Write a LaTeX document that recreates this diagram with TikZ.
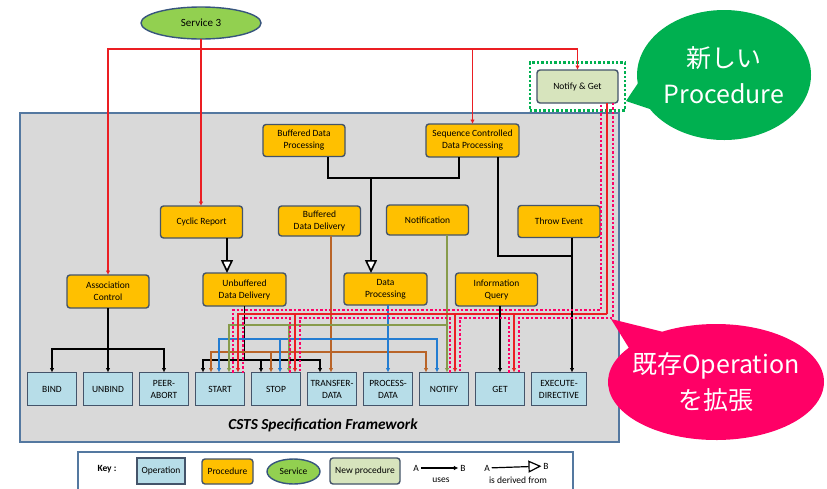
\documentclass[tikz,border=0pt]{standalone}
\usepackage{fontspec}
\setmainfont{Carlito}
\newfontfamily\jpfont{Noto Sans CJK JP}
\usetikzlibrary{arrows.meta,positioning,fit,calc,shapes.geometric,shapes.callouts}
\definecolor{procorange}{RGB}{255,192,0}
\definecolor{opblue}{RGB}{183,221,232}
\definecolor{newgreen}{RGB}{215,228,189}
\definecolor{svcgreen}{RGB}{146,208,80}
\definecolor{svcedge}{RGB}{55,85,125}
\definecolor{boxedge}{RGB}{68,84,106}
\definecolor{framegrey}{RGB}{217,217,217}
\definecolor{framedge}{RGB}{84,120,160}
\definecolor{svcred}{RGB}{235,30,35}
\definecolor{brnline}{RGB}{185,100,40}
\definecolor{bluline}{RGB}{35,125,210}
\definecolor{olvline}{RGB}{135,155,75}
\definecolor{hlpink}{RGB}{255,0,102}
\definecolor{calgreen}{RGB}{0,176,80}
\definecolor{calpink}{RGB}{255,0,102}

\begin{document}
\begin{tikzpicture}[
    x=1pt, y=-1pt,
    every node/.style={font=\fontsize{9.5}{12}\selectfont, outer sep=0pt},
    proc/.style={draw=boxedge, fill=procorange, line width=1.4pt, rounded corners=3pt,
      minimum width=82pt, minimum height=32pt, inner sep=1pt, align=center},
    oper/.style={draw=boxedge, fill=opblue, line width=1.4pt,
      minimum width=49pt, minimum height=33pt, inner sep=1pt, align=center},
    newproc/.style={draw=boxedge, fill=newgreen, line width=1.4pt, rounded corners=3pt,
      minimum width=81pt, minimum height=33pt, inner sep=1pt},
    svc/.style={ellipse, draw=svcedge, fill=svcgreen, line width=1.4pt, inner sep=1pt},
    uses/.style={line width=1.5pt, -{Latex[length=4.5pt,width=4.5pt]}},
    derived/.style={line width=1.6pt, -{Triangle[open,fill=white,length=13pt,width=12pt]}},
    hilite/.style={line width=2.4pt, dash pattern=on 2.4pt off 2pt},
    callnote/.style={ellipse callout, text=white, align=center, inner xsep=-20pt, inner ysep=0pt,
      callout pointer arc=24, font=\jpfont\fontsize{25}{36}\selectfont},
  ]
  \fill[white] (0,0) rectangle (827,488);
  \useasboundingbox (0,0) rectangle (827,488);
  \clip (0,0) rectangle (827,488);

  % framework and key
  \node[draw=framedge, fill=framegrey, line width=1.5pt, minimum width=599pt, minimum height=329pt] (framework) at (319.5,277.5) {};
  \node[font=\bfseries\itshape\fontsize{15.3}{18}\selectfont] (fwname) at (323,425) {CSTS Specification Framework};
  \node[draw=framedge, line width=1.5pt, minimum width=495pt, minimum height=50pt] (keybox) at (325.5,477) {};

  % service and procedures
  \node[svc, minimum width=120pt, minimum height=32pt, font=\fontsize{11}{13}\selectfont] (service) at (201,23) {Service 3};
  \node[newproc] (notifyget) at (577.5,86.5) {Notify \& Get};
  \node[draw=calgreen, hilite, fit=(notifyget), inner xsep=7pt, inner ysep=7.5pt] (newmark) {};
  \node[proc] (bdp) at (304,140.5) {Buffered Data\\Processing};
  \node[proc, minimum width=93pt, minimum height=33pt] (scdp) at (472.5,140.5) {Sequence Controlled\\Data Processing};
  \node[proc] (cyclic) at (201.5,222) {Cyclic Report};
  \node[proc, minimum height=30pt] (bdd) at (319.5,221) {Buffered\\Data Delivery};
  \node[proc, minimum height=30pt] (notif) at (427.5,220) {Notification};
  \node[proc] (throw) at (559,221.5) {Throw Event};
  \node[proc, minimum height=33pt] (assoc) at (108,291.5) {Association\\Control};
  \node[proc, minimum width=83pt, minimum height=33pt] (unbuf) at (244.5,289.5) {Unbuffered\\Data Delivery};
  \node[proc, minimum width=83pt] (dataproc) at (385.5,289) {Data\\Processing};
  \node[proc, minimum height=33pt] (infoq) at (496.5,289.5) {Information\\Query};

  % operations
  \node[oper] (bind) at (52,389) {BIND};
  \node[oper, right=7pt of bind] (unbind) {UNBIND};
  \node[oper, right=7pt of unbind] (peer) {PEER-\\ABORT};
  \node[oper, right=7pt of peer] (start) {START};
  \node[oper, right=7pt of start] (stop) {STOP};
  \node[oper, right=7pt of stop] (transfer) {TRANSFER-\\DATA};
  \node[oper, right=7pt of transfer] (process) {PROCESS-\\DATA};
  \node[oper, right=7pt of process] (notify) {NOTIFY};
  \node[oper, right=7pt of notify] (get) {GET};
  \node[oper, right=7pt of get, minimum width=55pt] (execute) {EXECUTE-\\DIRECTIVE};

  % Service 3
  \coordinate (svbus) at (0,49);
  \draw[uses, svcred] (service.south) -- (service.south |- cyclic.north);
  \foreach \p in {assoc,scdp,notifyget}
    \draw[uses, svcred] (service.south |- svbus) -| (\p.north);

  % derived from
  \coordinate (dpbus) at (371,178);
  \coordinate (crx) at (227,0);
  \draw[derived] (cyclic.south -| crx) -- (unbuf.north -| crx);
  \draw[line width=1.6pt] ([xshift=24pt]bdp.south) |- (dpbus) -| ([xshift=-13.5pt]scdp.south);
  \draw[derived] (dpbus) -- (dataproc.north -| dpbus);

  % uses
  \coordinate (abus) at (108,349);
  \foreach \o in {bind,unbind,peer}
    \draw[uses] (assoc.south) -- (abus) -| (\o.north);
  \coordinate (kbus) at (244.5,360);
  \foreach \dx/\o in {7.5/start,9.5/stop,12.5/transfer}
    \draw[uses] (unbuf.south) -- (kbus) -| ([xshift=\dx pt]\o.north west);
  \coordinate (brbus) at (331,352);
  \draw[uses, brnline] (bdd.south -| brbus) -- (transfer.north -| brbus);
  \foreach \dx/\o in {15.5/start,19.5/stop,6.5/notify}
    \draw[uses, brnline] (brbus) -| ([xshift=\dx pt]\o.north west);
  \coordinate (blbus) at (388,339);
  \draw[uses, bluline] (dataproc.south -| blbus) -- (process.north -| blbus);
  \foreach \dx/\o in {23.5/start,28.5/stop,17.5/notify}
    \draw[uses, bluline] (blbus) -| ([xshift=\dx pt]\o.north west);
  \coordinate (olbus) at (447,325);
  \draw[uses, olvline] (notif.south -| olbus) -- (notify.north -| olbus);
  \foreach \dx/\o in {33.5/start,37.5/stop}
    \draw[uses, olvline] (olbus) -| ([xshift=\dx pt]\o.north west);
  \coordinate (rdbus) at (607,314);
  \draw[svcred, line width=1.5pt] (notifyget.south -| rdbus) -- (rdbus);
  \foreach \dx/\o in {42.5/start,43.5/stop,35.5/notify,38.5/get}
    \draw[uses, svcred] (rdbus) -| ([xshift=\dx pt]\o.north west);
  \draw[uses] (infoq.south -| get.north) -- (get.north);
  \coordinate (exbus) at (572,256);
  \draw[line width=1.5pt] ([xshift=25.5pt]scdp.south) |- (exbus);
  \draw[uses] (throw.south -| exbus) -- (execute.north -| exbus);

  % extended operations
  \draw[hilite, hlpink] (233,372.5) |- (601,310) -- (601,103);
  \draw[hilite, hlpink] (613,103) |- (519,318) -- (519,372.5);
  \draw[hilite, hlpink] (509,372.5) |- (460,318) -- (460,372.5);
  \draw[hilite, hlpink] (450,372.5) |- (300,318) -- (300,372.5);
  \draw[hilite, hlpink] (290,372.5) |- (243,318) -- (243,372.5);

  % key
  \node[font=\bfseries\fontsize{9.5}{11}\selectfont] (keylbl) at (107,469) {Key :};
  \node[oper, minimum width=48pt, minimum height=26pt] (kop) at (161,471) {Operation};
  \node[proc, minimum width=51pt, minimum height=25pt] (kproc) at (227.5,471.5) {Procedure};
  \node[svc, minimum width=53pt, minimum height=25pt] (ksvc) at (293.5,471.5) {Service};
  \node[newproc, minimum width=70pt, minimum height=26pt] (knew) at (365,471) {New procedure};
  \node[inner sep=2pt] (ka1) at (416,468) {A};
  \node[inner sep=2pt] (kb1) at (463,468) {B};
  \draw[uses] (ka1) -- (kb1);
  \node (kuse) at (441,480) {uses};
  \node[inner sep=2pt] (ka2) at (487,468) {A};
  \node[inner sep=2pt] (kb2) at (546,466) {B};
  \draw[derived, line width=1.2pt] (ka2) -- (kb2);
  \node (kder) at (518,480) {is derived from};

  % callouts
  \node[callnote, fill=calgreen, minimum width=174pt, minimum height=130pt,
    callout absolute pointer={(626,101)}] (newcall) at (724,75) {新しい\\Procedure};
  \node[callnote, fill=calpink, minimum width=216pt, minimum height=116pt,
    callout absolute pointer={(611,319)}] (extcall) at (716,382) {既存Operation\\を拡張};
\end{tikzpicture}
\end{document}
